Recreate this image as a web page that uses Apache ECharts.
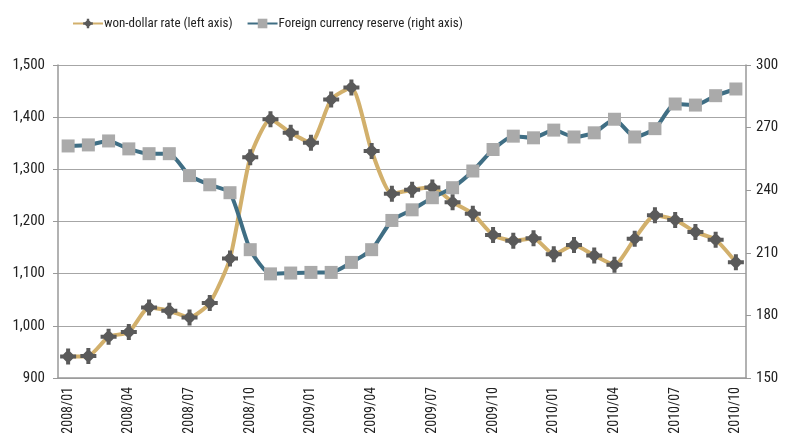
<!DOCTYPE html>
<html>
<head>
<meta charset="utf-8">
<script src="https://cdn.jsdelivr.net/npm/echarts@6/dist/echarts.min.js"></script>
<style>
  html, body { margin: 0; padding: 0; background: #fff; }
  #chartWrap { width: 785px; height: 439px; }
</style>
</head>
<body>
<div id="chartWrap"></div>
<script>
// 월별 카테고리 (2008/01 ~ 2010/10)
var months = [];
for (var y = 2008; y <= 2010; y++) {
	for (var m = 1; m <= 12; m++) {
		if (y == 2010 && m > 10) break;
		months.push(y + '/' + (m < 10 ? '0' + m : m));
	}
}

var wonDollar = [
	941, 942, 979, 988, 1035, 1029, 1016, 1044, 1129,
	1323, 1396, 1370, 1351, 1434, 1457, 1335, 1253, 1261, 1265, 1237, 1215,
	1174, 1163, 1168, 1137, 1155, 1135, 1117, 1167, 1212, 1203, 1180, 1165, 1122
];

var fxReserve = [
	261.2, 261.7, 263.6, 259.8, 257.5, 257.5, 247.0, 242.6, 238.8,
	211.5, 199.9, 200.3, 200.6, 200.6, 205.4, 211.5, 225.5, 230.6, 236.4, 241.2, 249.2,
	259.5, 265.9, 265.1, 268.8, 265.5, 267.5, 274.0, 265.5, 269.5, 281.3, 280.8, 285.3, 288.5
];

var seriesNames = ['won-dollar rate (left axis)', 'Foreign currency reserve (right axis)'];

var fontName = '"Roboto Condensed", "DejaVu Sans Condensed", sans-serif';
// 마커 (다이아몬드 + 십자)
var crossDiamond = 'path://M-2,-8L2,-8L2,-5L5,-2L8,-2L8,2L5,2L2,5L2,8L-2,8L-2,5L-5,2L-8,2L-8,-2L-5,-2L-2,-5Z';

var dom = document.getElementById('chartWrap');
var myChart = echarts.init(dom);
var option = {
	animation: false,
	textStyle: { fontFamily: fontName },
	legend: {
		data: seriesNames,
		left: 67,
		top: 12,
		itemWidth: 30,
		itemHeight: 12,
		itemGap: 14,
		textStyle: { fontFamily: fontName, fontSize: 13, color: '#222', padding: [0, 0, 0, -4] }
	},
	grid: {
		left: 58,
		right: 39,
		top: 65,
		bottom: 61
	},
	xAxis: {
		type: 'category',
		data: months,
		boundaryGap: true,
		axisLine: { lineStyle: { color: '#999', width: 1.5 } },
		axisTick: { interval: 0, length: 5, lineStyle: { color: '#999' } },
		axisLabel: {
			interval: 2,
			rotate: 90,
			fontSize: 14,
			color: '#222',
			margin: 9,
			fontFamily: fontName
		}
	},
	yAxis: [{
		type: 'value',
		min: 900,
		max: 1500,
		interval: 100,
		axisLine: { show: true, lineStyle: { color: '#999', width: 1.5 } },
		axisTick: { show: true, length: 5, lineStyle: { color: '#999' } },
		splitLine: { lineStyle: { color: '#a6a6a6', width: 1.2 } },
		axisLabel: {
			fontSize: 15,
			color: '#222',
			margin: 13,
			fontFamily: fontName,
			formatter: function (v) { return v.toLocaleString('en-US'); }
		}
	}, {
		type: 'value',
		min: 150,
		max: 300,
		interval: 30,
		position: 'right',
		axisLine: { show: true, lineStyle: { color: '#999', width: 1.5 } },
		axisTick: { show: true, length: 5, lineStyle: { color: '#999' } },
		splitLine: { show: false },
		axisLabel: { fontSize: 15, color: '#222', margin: 10, fontFamily: fontName }
	}],
	series: [{
		name: seriesNames[0],
		type: 'line',
		yAxisIndex: 0,
		data: wonDollar,
		smooth: 0.2,
		showAllSymbol: true,
		symbol: crossDiamond,
		symbolSize: 16,
		itemStyle: { color: '#5a5a5a' },
		lineStyle: { color: '#d2b06c', width: 4 },
		z: 2
	}, {
		name: seriesNames[1],
		type: 'line',
		yAxisIndex: 1,
		data: fxReserve,
		smooth: 0.2,
		showAllSymbol: true,
		symbol: 'rect',
		symbolSize: 13,
		itemStyle: { color: '#aaaaaa' },
		lineStyle: { color: '#3f6e84', width: 4 },
		z: 3
	}]
};
if (option && typeof option === "object") {
	myChart.setOption(option, true);
}
</script>
</body>
</html>
